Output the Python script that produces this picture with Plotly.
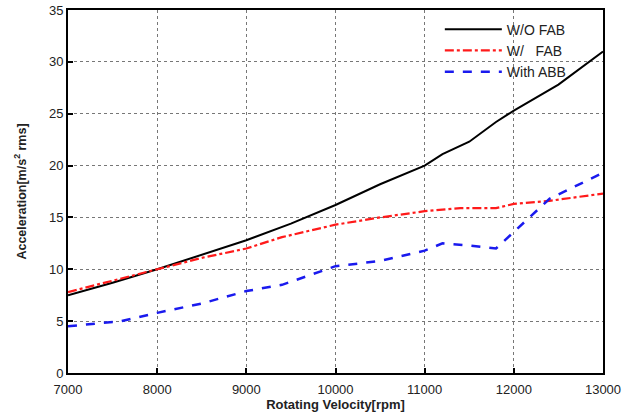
import plotly.graph_objects as go

rpm_black = [7000, 7500, 8000, 8500, 9000, 9500, 10000, 10500, 11000, 11200, 11500, 11800, 12000, 12500, 13000]
wo_fab = [7.5, 8.7, 10.0, 11.4, 12.8, 14.4, 16.2, 18.2, 20.0, 21.1, 22.3, 24.2, 25.3, 27.8, 31.0]

rpm_red = [7000, 7500, 8000, 8500, 9000, 9400, 10000, 10500, 11000, 11400, 11800, 12000, 12400, 13000]
w_fab = [7.8, 8.9, 10.0, 11.1, 12.0, 13.1, 14.3, 15.0, 15.6, 15.9, 15.9, 16.3, 16.6, 17.3]

rpm_blue = [7000, 7600, 8000, 8500, 9000, 9400, 10000, 10500, 11000, 11200, 11500, 11800, 12000, 12400, 13000]
with_abb = [4.5, 5.0, 5.8, 6.7, 7.9, 8.5, 10.3, 10.8, 11.8, 12.5, 12.3, 12.0, 13.6, 16.8, 19.3]

fig = go.Figure()
fig.add_trace(go.Scatter(x=rpm_black, y=wo_fab, mode="lines", name="W/O FAB",
                         line=dict(color="black", width=2)))
fig.add_trace(go.Scatter(x=rpm_red, y=w_fab, mode="lines", name="W/&nbsp;&nbsp;&nbsp;FAB",
                         line=dict(color="#ff1a1a", width=2.2, dash="dashdot")))
fig.add_trace(go.Scatter(x=rpm_blue, y=with_abb, mode="lines", name="With ABB",
                         line=dict(color="#1a1aee", width=2.5, dash="dash")))

axis_common = dict(
    showline=True, linecolor="black", linewidth=2, mirror=True,
    ticks="inside", ticklen=5, tickcolor="black", tickwidth=2,
    showgrid=True, gridcolor="#777777", griddash="dot", gridwidth=1,
    zeroline=False, automargin=False,
    tickfont=dict(family="Liberation Sans, Arial", size=13, color="#222222"),
)

fig.update_xaxes(range=[7000, 13000], dtick=1000, tickformat="d", ticklabelstandoff=3,
                 **axis_common,
                 title=dict(text="<b>Rotating Velocity[rpm]</b>", standoff=1,
                            font=dict(family="Liberation Sans, Arial", size=13, color="#222222")))
fig.update_yaxes(range=[0, 35], dtick=5, **axis_common,
                 title=dict(text="<b>Acceleration[m/s<sup>2</sup> rms]</b>", standoff=20,
                            font=dict(family="Liberation Sans, Arial", size=12.5, color="#222222")))

fig.update_layout(
    width=637, height=412,
    margin=dict(l=68, r=34, t=10, b=39),
    paper_bgcolor="white", plot_bgcolor="white",
    legend=dict(x=0.695, y=0.99, xanchor="left", yanchor="top",
                bgcolor="rgba(0,0,0,0)", borderwidth=0, itemwidth=57,
                tracegroupgap=0,
                font=dict(family="Liberation Sans, Arial", size=14, color="#222222")),
)

# remove the default 8px body margin so the figure fills the window exactly
fig.write_html("out.html", config={"displayModeBar": False},
               post_script="document.body.style.margin='0';")
